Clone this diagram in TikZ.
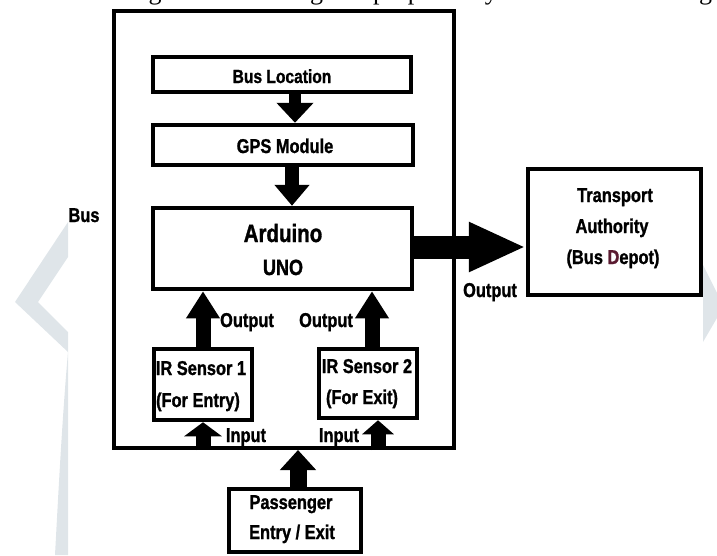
\documentclass[tikz,border=0pt]{standalone}
\usepackage{fontspec}
\newfontfamily\lab{Liberation Sans}[FakeStretch=0.82,FakeBold=1.2]
\newfontfamily\serf{Liberation Serif}
\usetikzlibrary{arrows.meta}
\definecolor{wm}{HTML}{DFE5E9}
\definecolor{depot}{HTML}{5A1A30}
\begin{document}
\begin{tikzpicture}[x=1pt,y=-1pt,
  box/.style={draw, line width=4.5pt, inner sep=0pt},
  txt/.style={font=\lab\bfseries\fontsize{20}{24}\selectfont, anchor=base, inner sep=0pt},
  barrow/.style n args={3}{line width=#1, -{Triangle[width=#2,length=#3]}}]
\useasboundingbox (0,0) rectangle (717,555);
\begin{scope}
\clip (0,0) rectangle (717,555);
% watermark
\fill[wm] (68,222) -- (15,302) -- (68,352) .. controls (62,420) and (58,500) .. (55,555)
  -- (68,555) -- (68,332) -- (38,302) -- (68,257) -- cycle;
\fill[wm] (703,265) -- (717,293) -- (717,318) -- (703,342) -- cycle;
% cut caption line
\node[anchor=base west, inner sep=0pt, font=\serf\fontsize{26}{30}\selectfont] (cap) at (6,-1)
  {\makebox[706pt][s]{The block diagram of working and proposed system is shown in Fig}};
\end{scope}
% boxes
\node[draw, line width=4pt, inner sep=0pt, minimum width=340pt, minimum height=437pt] (bus) at (284,229.5) {};
\node[box, minimum width=258pt, minimum height=35pt] (busloc) at (282,74.5) {};
\node[box, minimum width=260pt, minimum height=40pt] (gps) at (283,145) {};
\node[box, minimum width=259pt, minimum height=81pt] (ard) at (282.5,248.5) {};
\node[box, minimum width=173pt, minimum height=126pt] (tra) at (614.5,232) {};
\node[box, minimum width=98pt, minimum height=71pt] (ir1) at (203,384.5) {};
\node[box, minimum width=98pt, minimum height=69pt] (ir2) at (368,383.5) {};
\node[box, minimum width=132pt, minimum height=63pt] (pas) at (295,520.5) {};
% texts
\node[txt, font=\lab\bfseries\fontsize{19}{22}\selectfont] (tbl) at (282,83) {Bus Location};
\node[txt] (tgps) at (285,153) {GPS Module};
\node[txt, font=\lab\bfseries\fontsize{25}{28}\selectfont] (tard) at (283,242) {Arduino};
\node[txt, font=\lab\bfseries\fontsize{22}{26}\selectfont] (tuno) at (283,275) {UNO};
\node[txt] (ttr1) at (615,202) {Transport};
\node[txt] (ttr2) at (612,233) {Authority};
\node[txt] (ttr3) at (613,264) {(Bus \textcolor{depot}{D}epot)};
\node[txt] (tout) at (490,297) {Output};
\node[txt] (tbus) at (84,222) {Bus};
\node[txt] (to1) at (247,327) {Output};
\node[txt] (to2) at (326,327) {Output};
\node[txt] (tir1a) at (201,375) {IR Sensor 1};
\node[txt] (tir1b) at (198,407) {(For Entry)};
\node[txt] (tir2a) at (367,373) {IR Sensor 2};
\node[txt] (tir2b) at (362,404) {(For Exit)};
\node[txt] (tin1) at (246,442) {Input};
\node[txt] (tin2) at (339,442) {Input};
\node[txt] (tpas1) at (291,509) {Passenger};
\node[txt] (tpas2) at (292,539) {Entry / Exit};
% arrow guide coordinates
\coordinate (xa1) at (295,0);
\coordinate (xa2) at (292,0);
\coordinate (xa3) at (203,0);
\coordinate (xa4) at (372,0);
\coordinate (xa7) at (378,0);
\coordinate (xa8) at (298,0);
\coordinate (ya5) at (0,247);
% arrows
\draw[barrow={12pt}{36pt}{20pt}] (busloc.south -| xa1) -- (gps.north -| xa1);
\draw[barrow={14pt}{34pt}{21pt}] (gps.south -| xa2) -- (ard.north -| xa2);
\draw[barrow={15pt}{32pt}{27pt}] (ir1.north -| xa3) -- (ard.south -| xa3);
\draw[barrow={15pt}{32pt}{27pt}] (ir2.north -| xa4) -- (ard.south -| xa4);
\draw[barrow={23pt}{46pt}{57pt}] (ard.east |- ya5) -- (tra.west |- ya5);
\draw[barrow={15pt}{37pt}{14pt}] (bus.south -| xa3) -- (ir1.south -| xa3);
\draw[barrow={15pt}{31pt}{14pt}] (bus.south -| xa7) -- (ir2.south -| xa7);
\draw[barrow={17pt}{35pt}{20pt}] (pas.north -| xa8) -- (bus.south -| xa8);
\end{tikzpicture}
\end{document}
